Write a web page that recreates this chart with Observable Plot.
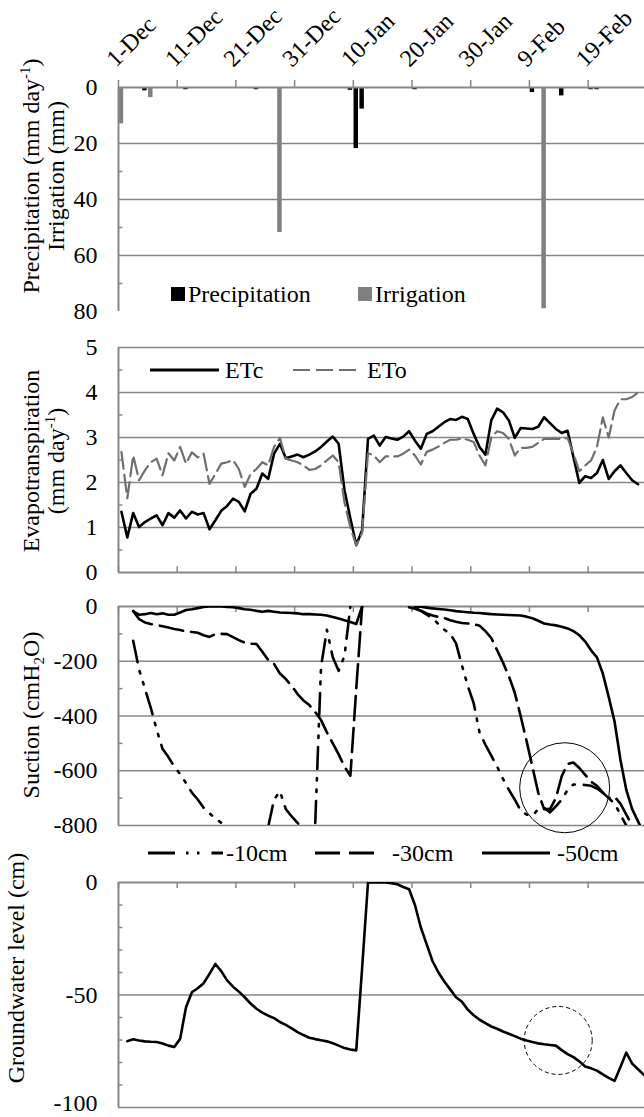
<!DOCTYPE html>
<html><head><meta charset="utf-8">
<script src="https://cdn.jsdelivr.net/npm/d3@7"></script>
<script src="https://cdn.jsdelivr.net/npm/@observablehq/plot@0.6"></script>
<style>
body{margin:0;background:#fff;}
#wrap{position:relative;width:644px;height:1117px;overflow:hidden;background:#fff;}
#wrap > svg{display:block;}
#overlay{position:absolute;left:0;top:0;pointer-events:none;}
</style></head><body><div id="wrap"></div>
<script>
// ---------- data ----------
const xTickDays = [0, 10, 20, 30, 40, 50, 60, 70, 80];
const xTickLabels = ["1-Dec", "11-Dec", "21-Dec", "31-Dec", "10-Jan", "20-Jan", "30-Jan", "9-Feb", "19-Feb"];

const precipDays = [4, 11, 23, 39, 40, 41, 50, 70, 75, 80, 81];
const precipMm = [1.2, 0.8, 0.8, 1.0, 21.8, 7.7, 0.8, 1.8, 3.0, 0.8, 0.8];
const irrigDays = [0, 5, 27, 72];
const irrigMm = [13, 3.6, 51.8, 79];
const barSeries = ["Precipitation", "Irrigation"];

const etc = [1.35, 0.78, 1.32, 1.01, 1.12, 1.2, 1.27, 1.05, 1.32, 1.22,
  1.38, 1.2, 1.35, 1.29, 1.32, 0.96, 1.16, 1.37, 1.48, 1.64,
  1.57, 1.36, 1.75, 1.86, 2.2, 2.08, 2.64, 2.86, 2.54, 2.58,
  2.62, 2.56, 2.62, 2.69, 2.79, 2.91, 3.02, 2.86, 1.83, 1.2,
  0.61, 0.94, 2.97, 3.04, 2.82, 3.01, 2.98, 2.95, 3.02, 3.14,
  2.93, 2.75, 3.08, 3.14, 3.24, 3.34, 3.41, 3.39, 3.46, 3.41,
  3.08, 2.79, 2.62, 3.38, 3.64, 3.56, 3.38, 2.99, 3.21, 3.2,
  3.19, 3.24, 3.45, 3.32, 3.19, 3.1, 3.15, 2.56, 1.99, 2.14,
  2.1, 2.21, 2.5, 2.08, 2.25, 2.38, 2.21, 2.05, 1.96];
const eto = [2.68, 1.65, 2.6, 2.05, 2.27, 2.45, 2.53, 2.16, 2.65, 2.49,
  2.79, 2.42, 2.67, 2.56, 2.64, 1.97, 2.19, 2.42, 2.45, 2.5,
  2.3, 1.9, 2.19, 2.3, 2.45, 2.38, 2.79, 2.99, 2.53, 2.49,
  2.45, 2.38, 2.28, 2.3, 2.38, 2.49, 2.6, 2.45, 1.55, 1.0,
  0.6, 0.88, 2.65, 2.6, 2.45, 2.58, 2.58, 2.58, 2.64, 2.73,
  2.6, 2.4, 2.68, 2.73, 2.8, 2.88, 2.95, 2.95, 2.98, 2.95,
  2.9, 2.6, 2.38, 3.0, 3.14, 3.1, 2.97, 2.6, 2.77, 2.77,
  2.79, 2.88, 2.97, 2.97, 2.97, 2.97, 2.99, 2.64, 2.25, 2.38,
  2.49, 2.79, 3.45, 3.0, 3.6, 3.85, 3.85, 3.9, 4.0];
const etSeries = ["ETc", "ETo"];

// null = no reading (sensor saturated / off the scale)
const suction10 = [null, null,
  -125, -230, -300, -370, -450, -520, -550, -585,
  -612, -645, -680, -705, -735, -755, -775, -790, -800, -815,
  -840, -860, -870, -860, -840, -805, -705, -675, -740, -767,
  -790, -815, -840, -800, -220, -85, -185, -235, -180, 0,
  null, null, null, null, null, null, null, null, null, -3,
  -8, -16, -30, -42, -65, -85, -99, -135, -215, -290,
  -353, -460, -505, -545, -585, -630, -670, -705, -745, -760,
  -764, -740, -735, -752, -730, -705, -670, -650, -650, -652,
  -655, -665, -680, -700, -720, -760, -800, -840, -880];
const suction30 = [null, null,
  -16, -46, -58, -64, -68, -72, -77, -82,
  -86, -91, -93, -96, -105, -111, -101, -100, -101, -112,
  -123, -132, -136, -137, -165, -195, -210, -245, -265, -290,
  -320, -343, -360, -385, -415, -460, -500, -540, -585, -618,
  -300, 0, null, null, null, null, null, null, null, null,
  -5, -15, -25, -33, -38, -42, -50, -56, -60, -62,
  -64, -70, -90, -115, -160, -205, -255, -315, -400, -490,
  -585, -680, -740, -740, -700, -620, -575, -570, -590, -615,
  -640, -655, -680, -700, -695, -720, -760, -800, -840];
const suction50 = [null, null,
  -18, -30, -28, -24, -28, -25, -30, -30,
  -22, -13, -10, -6, -2, 0, 0, 0, -2, -3,
  -6, -10, -12, -16, -19, -16, -19, -22, -23, -24,
  -25, -28, -28, -29, -30, -33, -38, -44, -50, -57,
  -64, 0, null, null, null, null, null, null, null, null,
  0, -1, -4, -7, -9, -11, -14, -17, -19, -21,
  -23, -24, -26, -28, -29, -30, -31, -32, -33, -37,
  -43, -52, -62, -66, -69, -74, -80, -90, -105, -128,
  -160, -186, -245, -330, -420, -560, -670, -740, -785, -830];
const suctionSeries = ["-10cm", "-30cm", "-50cm"];
const suctionCircle = [{day: 76.0, value: -662}];

const groundwater = [null, -70.5, -69.7, -70.2, -70.6, -70.8, -70.9, -71.6, -72.5, -73.1,
  -69.5, -55.4, -48.8, -47, -44.8, -40.6, -36.2, -39.4, -43.5, -46.3,
  -48.5, -51, -53.8, -56.1, -57.8, -59.2, -60.3, -62, -63.3, -64.8,
  -66.5, -67.8, -69, -69.6, -70.1, -70.6, -71.4, -72.5, -73.6, -74.2,
  -74.6, -38, 0, 0, 0, 0, -0.3, -0.8, -2, -3,
  -10, -20, -27.5, -35, -40, -44, -47.5, -51, -53, -56.5,
  -59, -61, -62.5, -64, -65, -66.2, -67.2, -68.3, -69.4, -70.2,
  -70.9, -71.5, -71.9, -72.2, -72.5, -74.5, -76.3, -77.6, -79.5, -81.8,
  -82.6, -83.6, -85.3, -86.8, -88.2, -82, -75.6, -80.5, -83, -85.5];
const gwCircle = [{day: 74.9, value: -70.2}];

const p1Ticks = [0, 20, 40, 60, 80], p1Minor = [10, 30, 50, 70];
const p2Ticks = [0, 1, 2, 3, 4, 5], p2Minor = [0.5, 1.5, 2.5, 3.5, 4.5];
const p3Ticks = [0, -200, -400, -600, -800], p3Minor = [-100, -300, -500, -700];
const p4Ticks = [0, -50, -100], p4Minor = [-10, -20, -30, -40, -60, -70, -80, -90];

// ---------- helpers ----------
const FONT = "'Liberation Serif', 'Times New Roman', serif";
const AX = "#878787";
const W = 644, ML = 118;
const xDomain = [0, 89.6];
const st = {fontFamily: FONT, fontSize: "24px", background: "transparent", overflow: "visible", color: "black"};
const pos = (d, i) => i + 0.5;

const precipitation = precipDays.map((d, i) => ({day: d, mm: precipMm[i]}));
const irrigation = irrigDays.map((d, i) => ({day: d, mm: irrigMm[i]}));

function frameMarks(grid, minor, ticks, lastDy = 0) {
  return [
    Plot.ruleY(grid, {stroke: AX, strokeWidth: 1.5}),
    Plot.ruleY(minor, {x1: 0, x2: 0.75, stroke: AX, strokeWidth: 1.5}),
    Plot.text(ticks.slice(0, -1), {x: 0, y: d => d, dx: -21, textAnchor: "end", text: d => String(d), fontSize: 24, fill: "black"}),
    Plot.text(ticks.slice(-1), {x: 0, y: d => d, dx: -21, dy: lastDy, textAnchor: "end", text: d => String(d), fontSize: 24, fill: "black"})
  ];
}
const axisLines = (y0) => [
  Plot.ruleY([y0], {stroke: AX, strokeWidth: 2}),
  Plot.ruleX([0], {stroke: AX, strokeWidth: 2})
];

const wrap = document.getElementById("wrap");

// ---------- panel 1 ----------
wrap.append(Plot.plot({
  width: W, height: 320, marginLeft: ML, marginRight: 0, marginTop: 87, marginBottom: 9,
  style: st,
  x: {domain: xDomain, axis: null},
  y: {domain: [0, 80], reverse: true, axis: null},
  marks: [
    ...frameMarks([20, 40, 60], p1Minor, p1Ticks),
    Plot.rect(irrigation, {x1: d => d.day + 0.12, x2: d => d.day + 0.88, y1: 0, y2: "mm", fill: "#808080"}),
    Plot.rect(precipitation, {x1: d => d.day + 0.12, x2: d => d.day + 0.88, y1: 0, y2: "mm", fill: "black"}),
    ...axisLines(0),
    Plot.ruleX(xTickDays, {y1: 0, y2: -2.5, stroke: AX, strokeWidth: 1.5}),
    Plot.text(xTickDays, {x: d => d, y: 0, dx: -8, dy: -25, rotate: -45, textAnchor: "start",
      text: (d, i) => xTickLabels[i], fontSize: 24, fill: "black"})
  ]
}));

// ---------- panel 2 ----------
wrap.append(Plot.plot({
  width: W, height: 270, marginLeft: ML, marginRight: 0, marginTop: 27, marginBottom: 18,
  style: st,
  x: {domain: xDomain, axis: null},
  y: {domain: [0, 5], axis: null},
  marks: [
    ...frameMarks([1, 2, 3, 4, 5], p2Minor, p2Ticks),
    ...axisLines(0),
    Plot.ruleX(xTickDays, {y1: 0, y2: 0.13, stroke: AX, strokeWidth: 1.5}),
    Plot.line(etc, {x: pos, y: d => d, stroke: "black", strokeWidth: 2.6, strokeLinejoin: "round"}),
    Plot.line(eto, {x: pos, y: d => d, stroke: "#6f6f6f", strokeWidth: 2.2, strokeDasharray: "17,6", strokeLinejoin: "round"})
  ]
}));

// ---------- panel 3 ----------
const sLine = {x: pos, y: d => d, stroke: "black", strokeWidth: 2.6, strokeLinejoin: "round", clip: true};
wrap.append(Plot.plot({
  width: W, height: 280, marginLeft: ML, marginRight: 0, marginTop: 16, marginBottom: 45,
  style: st,
  x: {domain: xDomain, axis: null},
  y: {domain: [-800, 0], axis: null},
  marks: [
    ...frameMarks([-200, -400, -600, -800], p3Minor, p3Ticks),
    ...axisLines(0),
    Plot.ruleX(xTickDays, {y1: 0, y2: -22, stroke: AX, strokeWidth: 1.5}),
    Plot.line(suction10, {...sLine, strokeDasharray: "22,9,2.5,9,2.5,9"}),
    Plot.line(suction30, {...sLine, strokeDasharray: "24,8"}),
    Plot.line(suction50, sLine),
    Plot.dot(suctionCircle, {x: "day", y: "value", r: 45, stroke: "black", strokeWidth: 1, fill: "none"})
  ]
}));

// ---------- panel 4 ----------
wrap.append(Plot.plot({
  width: W, height: 247, marginLeft: ML, marginRight: 0, marginTop: 12, marginBottom: 10,
  style: st,
  x: {domain: xDomain, axis: null},
  y: {domain: [-100, 0], axis: null},
  marks: [
    ...frameMarks([-50, -100], p4Minor, p4Ticks, -4),
    ...axisLines(0),
    Plot.ruleX(xTickDays, {y1: 0, y2: -2.7, stroke: AX, strokeWidth: 1.5}),
    Plot.line(groundwater, {x: pos, y: d => d, stroke: "black", strokeWidth: 2.6, strokeLinejoin: "round", clip: true}),
    Plot.dot(gwCircle, {x: "day", y: "value", r: 34, stroke: "black", strokeWidth: 1, fill: "none", strokeDasharray: "4,3"})
  ]
}));

// ---------- titles & legends (overlay) ----------
const sup = t => `<tspan font-size="15" dy="-9">${t}</tspan><tspan dy="9">)</tspan>`;
const overlay = `
<svg id="overlay" width="644" height="1117" font-family="${FONT.replace(/'/g, "")}" font-size="24" fill="black">
  <text transform="translate(39,176) rotate(-90)" text-anchor="middle">Precipitation (mm day${sup("-1")}</text>
  <text transform="translate(64,176) rotate(-90)" text-anchor="middle">Irrigation (mm)</text>
  <text transform="translate(39,461) rotate(-90)" text-anchor="middle">Evapotranspiration</text>
  <text transform="translate(64,461) rotate(-90)" text-anchor="middle">(mm day${sup("-1")}</text>
  <text transform="translate(39,715) rotate(-90)" text-anchor="middle">Suction (cmH<tspan font-size="15" dy="5">2</tspan><tspan dy="-5">O)</tspan></text>
  <text transform="translate(24,968) rotate(-90)" text-anchor="middle">Groundwater level (cm)</text>

  <rect x="171" y="287" width="14" height="14" fill="black"/>
  <text x="188" y="302">${barSeries[0]}</text>
  <rect x="358" y="287" width="14" height="14" fill="#808080"/>
  <text x="375" y="302">${barSeries[1]}</text>

  <line x1="150" x2="219" y1="370" y2="370" stroke="black" stroke-width="2.8"/>
  <text x="225" y="378">${etSeries[0]}</text>
  <line x1="293" x2="362" y1="370" y2="370" stroke="#6f6f6f" stroke-width="2.2" stroke-dasharray="17,6"/>
  <text x="367" y="378">${etSeries[1]}</text>

  <line x1="148" x2="223" y1="853" y2="853" stroke="black" stroke-width="2.8" stroke-dasharray="27,11,2.5,8.5,2.5,12"/>
  <text x="226" y="861">${suctionSeries[0]}</text>
  <line x1="315" x2="375" y1="853" y2="853" stroke="black" stroke-width="2.8" stroke-dasharray="25,9"/>
  <text x="392" y="861">${suctionSeries[1]}</text>
  <line x1="482" x2="550" y1="853" y2="853" stroke="black" stroke-width="2.8"/>
  <text x="557" y="861">${suctionSeries[2]}</text>
</svg>`;
wrap.insertAdjacentHTML("beforeend", overlay);
</script>
</body></html>
